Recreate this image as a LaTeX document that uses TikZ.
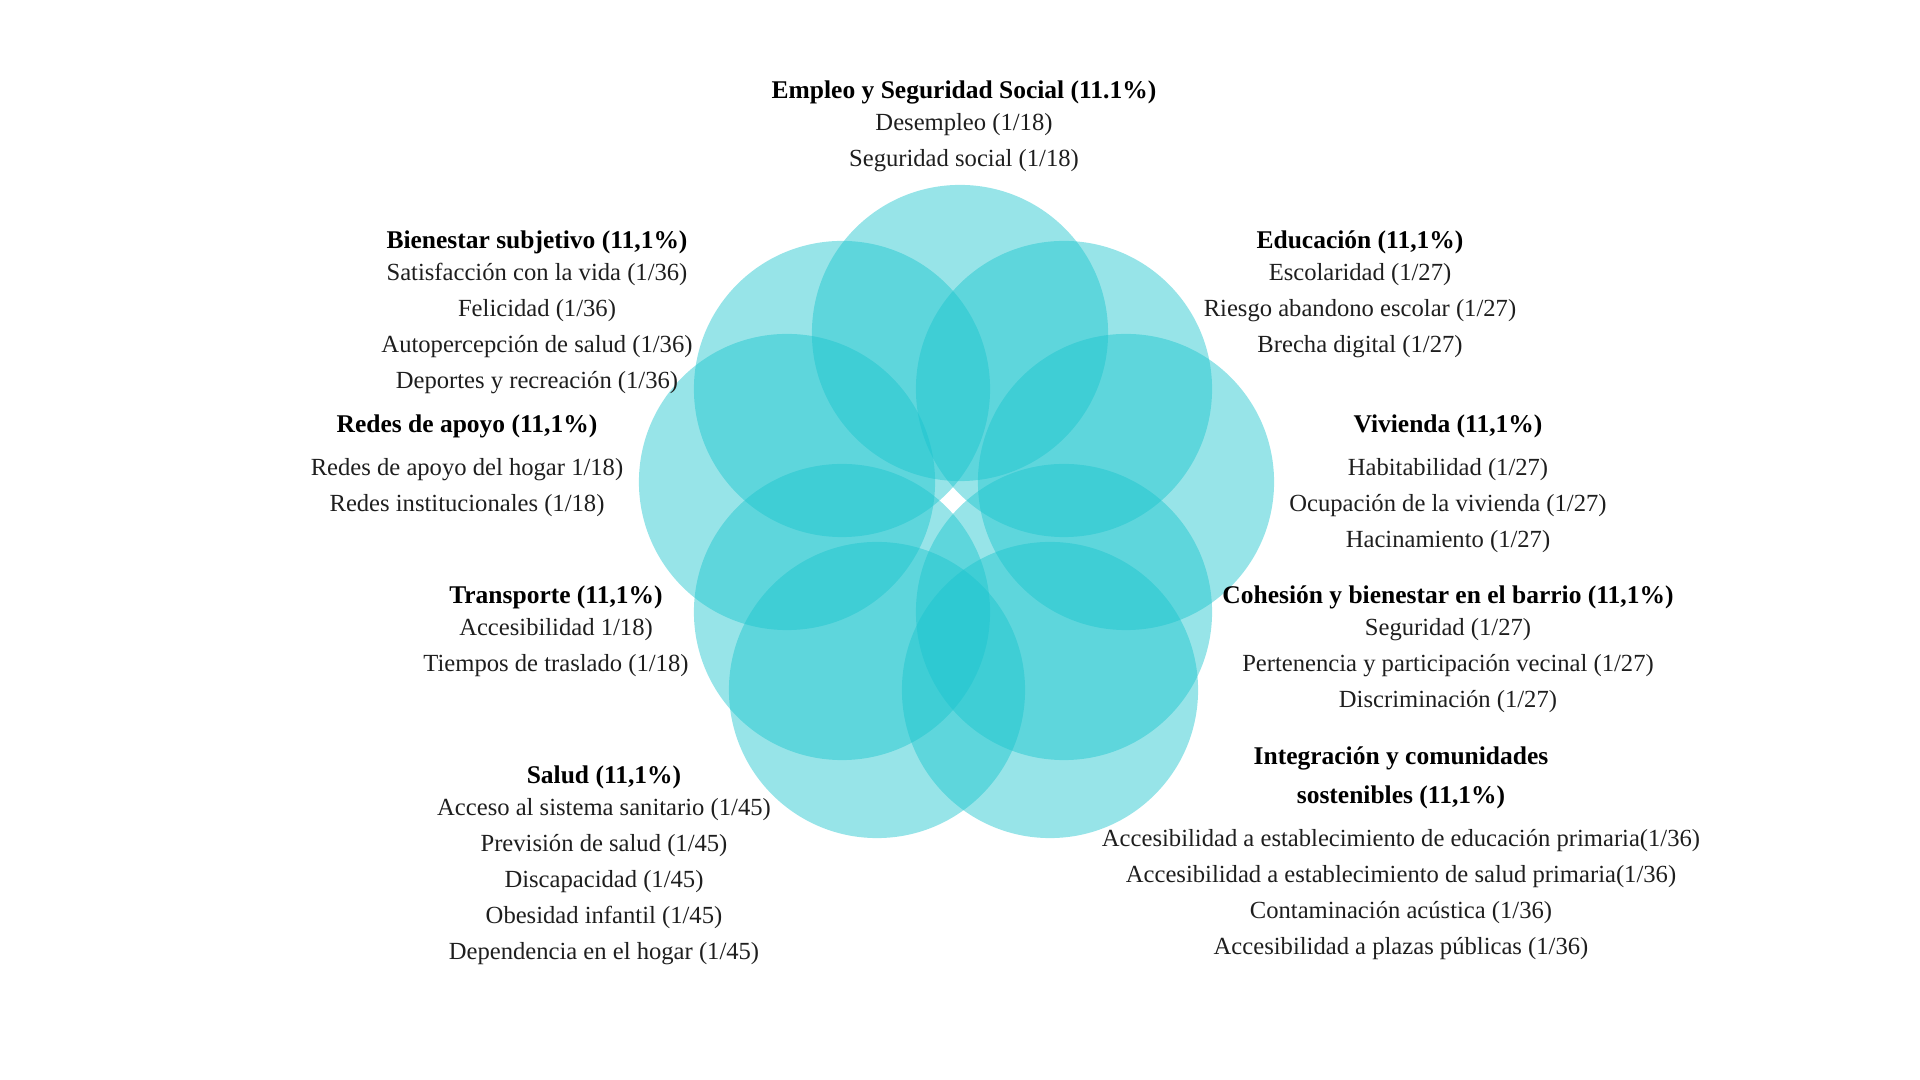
\documentclass[tikz,border=0pt]{standalone}
\usepackage{fontspec}
\setmainfont{Liberation Serif}
\usepackage{xcolor}
\definecolor{petal}{RGB}{25,196,205}
\definecolor{itemtext}{RGB}{30,30,30}
\newcommand{\heading}[1]{{\fontsize{7.25}{10.2}\selectfont\bfseries\color{black}#1}}

\begin{document}
\begin{tikzpicture}[x=0.01cm,y=-0.01cm,
    petalfill/.style={fill=petal,fill opacity=0.45},
    block/.style={anchor=north,align=center,inner sep=0pt,text=itemtext,font=\fontsize{7}{10.2}\selectfont}]
	\useasboundingbox (0,0) rectangle (1920,1080);

	% Circles
	\fill[petalfill] (960,333) circle[radius=1.48cm];
	\fill[petalfill] (842,389) circle[radius=1.48cm];
	\fill[petalfill] (1064,389) circle[radius=1.48cm];
	\fill[petalfill] (787,482) circle[radius=1.48cm];
	\fill[petalfill] (1126,482) circle[radius=1.48cm];
	\fill[petalfill] (842,612) circle[radius=1.48cm];
	\fill[petalfill] (1064,612) circle[radius=1.48cm];
	\fill[petalfill] (877,690) circle[radius=1.48cm];
	\fill[petalfill] (1050,690) circle[radius=1.48cm];

	% Labels
	\node[block] (empleo) at (964,80) {\heading{Empleo y Seguridad Social (11.1\%)}\\[-1pt]
		Desempleo (1/18)\\Seguridad social (1/18)};
	\node[block] (bienestar) at (537,230) {\heading{Bienestar subjetivo (11,1\%)}\\[-1pt]
		Satisfacción con la vida (1/36)\\Felicidad (1/36)\\Autopercepción de salud (1/36)\\Deportes y recreación (1/36)};
	\node[block] (educacion) at (1360,230) {\heading{Educación (11,1\%)}\\[-1pt]
		Escolaridad (1/27)\\Riesgo abandono escolar (1/27)\\Brecha digital (1/27)};
	\node[block] (redes) at (467,414) {\heading{Redes de apoyo (11,1\%)}\\[2pt]
		Redes de apoyo del hogar 1/18)\\Redes institucionales (1/18)};
	\node[block] (vivienda) at (1448,414) {\heading{Vivienda (11,1\%)}\\[2pt]
		Habitabilidad (1/27)\\Ocupación de la vivienda (1/27)\\Hacinamiento (1/27)};
	\node[block] (transporte) at (556,585) {\heading{Transporte (11,1\%)}\\[-1pt]
		Accesibilidad 1/18)\\Tiempos de traslado (1/18)};
	\node[block] (cohesion) at (1448,585) {\heading{Cohesión y bienestar en el barrio (11,1\%)}\\[-1pt]
		Seguridad (1/27)\\Pertenencia y participación vecinal (1/27)\\Discriminación (1/27)};
	\node[block] (salud) at (604,765) {\heading{Salud (11,1\%)}\\[-1pt]
		Acceso al sistema sanitario (1/45)\\Previsión de salud (1/45)\\Discapacidad (1/45)\\Obesidad infantil (1/45)\\Dependencia en el hogar (1/45)};
	\node[block] (integracion) at (1401,746) {\heading{Integración y comunidades}\\[1pt]
		\heading{sostenibles (11,1\%)}\\[2pt]
		Accesibilidad a establecimiento de educación primaria(1/36)\\Accesibilidad a establecimiento de salud primaria(1/36)\\Contaminación acústica (1/36)\\Accesibilidad a plazas públicas (1/36)};
\end{tikzpicture}
\end{document}
